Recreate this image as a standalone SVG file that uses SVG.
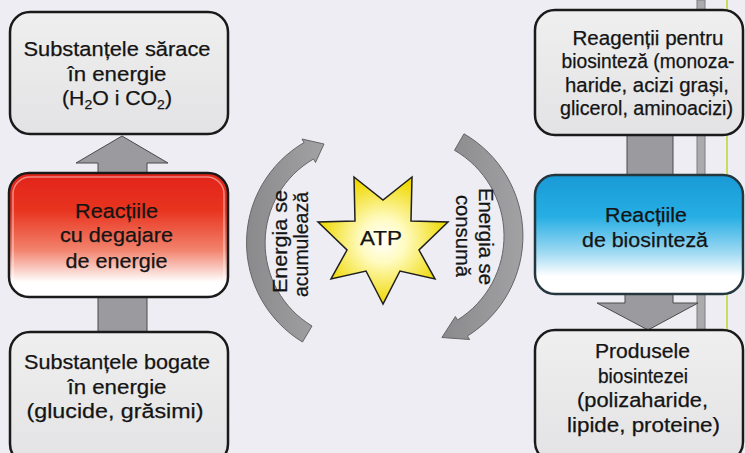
<svg xmlns="http://www.w3.org/2000/svg" width="745" height="453" viewBox="0 0 745 453">
  <defs>
    <linearGradient id="greyFill" x1="0" y1="0" x2="0" y2="1">
      <stop offset="0" stop-color="#EFEFEF"/>
      <stop offset="1" stop-color="#E3E3E5"/>
    </linearGradient>
    <linearGradient id="redFill" x1="0" y1="0" x2="0" y2="1">
      <stop offset="0" stop-color="#E2231A"/>
      <stop offset="0.3" stop-color="#E8341F"/>
      <stop offset="0.62" stop-color="#F2826C"/>
      <stop offset="0.88" stop-color="#FFFFFF"/>
      <stop offset="1" stop-color="#FFFFFF"/>
    </linearGradient>
    <linearGradient id="blueFill" x1="0" y1="0" x2="0" y2="1">
      <stop offset="0" stop-color="#189AD6"/>
      <stop offset="0.35" stop-color="#27AEE4"/>
      <stop offset="0.65" stop-color="#9ED9F2"/>
      <stop offset="0.85" stop-color="#FFFFFF"/>
      <stop offset="1" stop-color="#FFFFFF"/>
    </linearGradient>
    <radialGradient id="starFill" cx="0.5" cy="0.5" r="0.5">
      <stop offset="0" stop-color="#FFFFFF"/>
      <stop offset="0.35" stop-color="#FFFBC0"/>
      <stop offset="1" stop-color="#EFD800"/>
    </radialGradient>
    <linearGradient id="arcFill" x1="0" y1="0" x2="1" y2="0">
      <stop offset="0" stop-color="#8A8A8C"/>
      <stop offset="1" stop-color="#A2A2A4"/>
    </linearGradient>
    <style>
      .box { stroke: #1A1A1A; stroke-width: 2.5; }
      .grey { fill: url(#greyFill); }
      .shaft { fill: #9B9B9F; stroke: #4A4A4A; stroke-width: 1; }
      .arc { fill: url(#arcFill); stroke: #666; stroke-width: 1; }
      text { font-family: "Liberation Sans", Arial, sans-serif; fill: #141414; stroke: #141414; stroke-width: 0.25; text-anchor: middle; }
      .l { font-size: 20.5px; }
      .r { font-size: 19.5px; }
      .v { font-size: 20px; }
      .sub { font-size: 13.5px; }
    </style>
  </defs>

  <!-- page background -->
  <rect x="0" y="0" width="745" height="453" fill="#EDEDF3"/>

  <!-- vertical rules on the right edge -->
  <rect x="697" y="0" width="8" height="453" fill="#ABABAD" stroke="#7E7E80" stroke-width="1"/>
  <line x1="727" y1="0" x2="727" y2="453" stroke="#C9DC5E" stroke-width="2"/>

  <!-- connectors -->
  <g id="connectors">
    <!-- left column: rich substances -> reactions -> poor substances -->
    <rect class="shaft" x="98" y="290" width="49" height="48"/>
    <polygon class="shaft" points="98,180 98,163 76,163 122,136 168,163 147,163 147,180"/>
    <!-- right column: reagents -> biosynthesis -> products -->
    <rect class="shaft" x="627" y="128" width="46" height="52"/>
    <polygon class="shaft" points="625,288 625,303 597,303 648,330 698,303 673,303 673,288"/>
    <!-- curved arrows around ATP -->
    <path class="arc" d="M302.5,342 A116,116 0 0 1 304,142.6 L302,139 L324,144 L315.5,162.5 L313.5,159 A97,97 0 0 0 312,326 Z"/>
    <path class="arc" d="M464,133.8 A118,118 0 0 1 467.5,336 L469.6,339.5 L441.9,337.5 L455.4,316.5 L457.5,320 A99,99 0 0 0 454.5,150.3 Z"/>
  </g>

  <!-- left column -->
  <g id="poor-substances">
    <rect class="box grey" x="10" y="12" width="218" height="122" rx="20"/>
    <text class="l" x="117" y="56" textLength="187" lengthAdjust="spacingAndGlyphs">Substanțele sărace</text>
    <text class="l" x="117" y="81" textLength="99" lengthAdjust="spacingAndGlyphs">în energie</text>
    <text class="l" x="117" y="105" textLength="110" lengthAdjust="spacingAndGlyphs">(H<tspan class="sub" dy="4">2</tspan><tspan dy="-4">O i CO</tspan><tspan class="sub" dy="4">2</tspan><tspan dy="-4">)</tspan></text>
  </g>

  <g id="energy-release">
    <rect class="box" x="9" y="173" width="219" height="124" rx="20" fill="url(#redFill)"/>
    <rect x="13" y="177" width="211" height="116" rx="17" fill="none" stroke="#FFFFFF" stroke-opacity="0.45" stroke-width="1.5"/>
    <text class="l" x="116.5" y="218" textLength="83" lengthAdjust="spacingAndGlyphs">Reacțiile</text>
    <text class="l" x="116.5" y="242" textLength="113" lengthAdjust="spacingAndGlyphs">cu degajare</text>
    <text class="l" x="116.5" y="268" textLength="102" lengthAdjust="spacingAndGlyphs">de energie</text>
  </g>

  <g id="rich-substances">
    <rect class="box grey" x="10" y="332" width="218" height="132" rx="20"/>
    <text class="l" x="117" y="369" textLength="186" lengthAdjust="spacingAndGlyphs">Substanțele bogate</text>
    <text class="l" x="117" y="394" textLength="99" lengthAdjust="spacingAndGlyphs">în energie</text>
    <text class="l" x="115" y="418" textLength="177" lengthAdjust="spacingAndGlyphs">(glucide, grăsimi)</text>
  </g>

  <!-- ATP in the centre -->
  <g id="atp">
    <polygon points="383,304 366,271 331,279 347,250 318,222 355,221 354,177 383,200 412,177 411,221 448,222 419,250 435,279 400,271" fill="url(#starFill)" stroke="#1E1E1E" stroke-width="1.5" stroke-linejoin="miter"/>
    <text x="381" y="245" style="font-size:21px" textLength="42" lengthAdjust="spacingAndGlyphs">ATP</text>
  </g>

  <g id="label-store">
    <text class="v" transform="translate(287,241.5) rotate(-90)" x="0" y="0" textLength="103" lengthAdjust="spacingAndGlyphs">Energia se</text>
    <text class="v" transform="translate(308,244.5) rotate(-90)" x="0" y="0" textLength="105" lengthAdjust="spacingAndGlyphs">acumulează</text>
  </g>

  <g id="label-use">
    <text class="v" transform="translate(479,236.5) rotate(90)" x="0" y="0" textLength="97" lengthAdjust="spacingAndGlyphs">Energia se</text>
    <text class="v" transform="translate(456,236) rotate(90)" x="0" y="0" textLength="82" lengthAdjust="spacingAndGlyphs">consumă</text>
  </g>

  <!-- right column -->
  <g id="reagents">
    <rect class="box grey" x="535" y="10" width="208" height="125" rx="20"/>
    <text class="r" x="648" y="45" textLength="151" lengthAdjust="spacingAndGlyphs">Reagenții pentru</text>
    <text class="r" x="648" y="68" textLength="173" lengthAdjust="spacingAndGlyphs">biosinteză (monoza-</text>
    <text class="r" x="647" y="92" textLength="164" lengthAdjust="spacingAndGlyphs">haride, acizi grași,</text>
    <text class="r" x="646.5" y="115" textLength="173" lengthAdjust="spacingAndGlyphs">glicerol, aminoacizi)</text>
  </g>

  <g id="biosynthesis">
    <rect x="535" y="175" width="208" height="119" rx="20" fill="url(#blueFill)" stroke="#24363E" stroke-width="2.5"/>
    <text class="r" x="646" y="222" textLength="82" lengthAdjust="spacingAndGlyphs">Reacțiile</text>
    <text class="r" x="645" y="247" textLength="126" lengthAdjust="spacingAndGlyphs">de biosinteză</text>
  </g>

  <g id="products">
    <rect class="box grey" x="535" y="330" width="208" height="132" rx="20"/>
    <text class="r" x="642.5" y="358" textLength="95" lengthAdjust="spacingAndGlyphs">Produsele</text>
    <text class="r" x="643" y="383" textLength="90" lengthAdjust="spacingAndGlyphs">biosintezei</text>
    <text class="r" x="642.5" y="407" textLength="131" lengthAdjust="spacingAndGlyphs">(polizaharide,</text>
    <text class="r" x="643.5" y="432" textLength="153" lengthAdjust="spacingAndGlyphs">lipide, proteine)</text>
  </g>
</svg>
